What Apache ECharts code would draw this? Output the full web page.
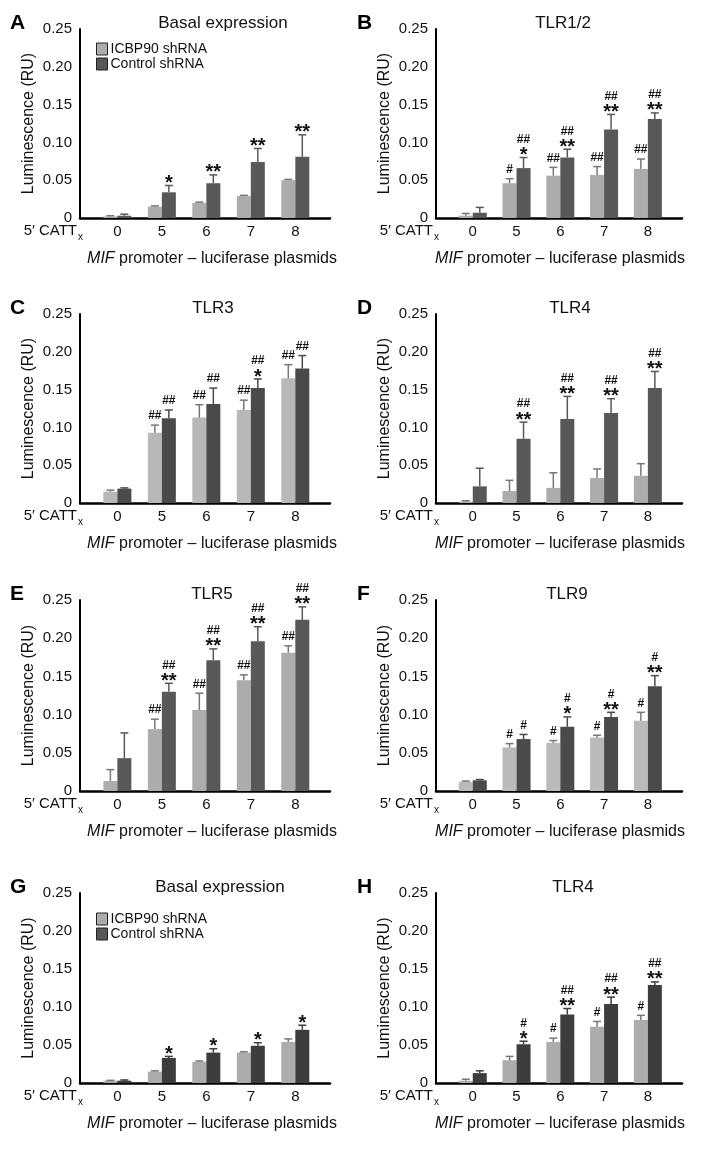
<!DOCTYPE html>
<html>
<head>
<meta charset="utf-8">
<script src="https://cdn.jsdelivr.net/npm/echarts@6/dist/echarts.min.js"></script>
<style>
  html, body { margin: 0; padding: 0; background: #fff; }
  #main { width: 703px; height: 1149px; }
</style>
</head>
<body>
<div id="main"></div>
<script>
// categories (number of CATT repeats) and y ticks
var cats = ['0', '5', '6', '7', '8']
var yMin = 0
var yMax = 0.25
var yStep = 0.05

// A - Basal expression
var lightA = [0.002, 0.015, 0.020, 0.029, 0.050]
var lightErrA = [0.001, 0.001, 0.001, 0.001, 0.001]
var darkA = [0.003, 0.034, 0.046, 0.074, 0.081]
var darkErrA = [0.002, 0.009, 0.011, 0.018, 0.029]
var sigLightA = ['', '', '', '', '']
var sigDarkA = ['', '*', '**', '**', '**']

// B - TLR1/2
var lightB = [0.003, 0.046, 0.056, 0.057, 0.065]
var lightErrB = [0.003, 0.006, 0.011, 0.011, 0.013]
var darkB = [0.007, 0.066, 0.080, 0.117, 0.131]
var darkErrB = [0.007, 0.014, 0.011, 0.020, 0.008]
var sigLightB = ['', '#', '##', '##', '##']
var sigDarkB = ['', '## *', '## **', '## **', '## **']

// C - TLR3
var lightC = [0.015, 0.093, 0.113, 0.123, 0.165]
var lightErrC = [0.002, 0.010, 0.017, 0.013, 0.018]
var darkC = [0.019, 0.112, 0.131, 0.152, 0.178]
var darkErrC = [0.001, 0.011, 0.021, 0.012, 0.017]
var sigLightC = ['', '##', '##', '##', '##']
var sigDarkC = ['', '##', '##', '## *', '##']

// D - TLR4
var lightD = [0.002, 0.016, 0.020, 0.033, 0.036]
var lightErrD = [0.001, 0.014, 0.020, 0.012, 0.016]
var darkD = [0.022, 0.085, 0.111, 0.119, 0.152]
var darkErrD = [0.024, 0.022, 0.030, 0.019, 0.022]
var sigLightD = ['', '', '', '', '']
var sigDarkD = ['', '## **', '## **', '## **', '## **']

// E - TLR5
var lightE = [0.013, 0.081, 0.106, 0.145, 0.181]
var lightErrE = [0.015, 0.013, 0.022, 0.007, 0.009]
var darkE = [0.043, 0.130, 0.171, 0.196, 0.224]
var darkErrE = [0.033, 0.011, 0.015, 0.019, 0.017]
var sigLightE = ['', '##', '##', '##', '##']
var sigDarkE = ['', '## **', '## **', '## **', '## **']

// F - TLR9
var lightF = [0.012, 0.057, 0.063, 0.070, 0.092]
var lightErrF = [0.001, 0.005, 0.003, 0.003, 0.011]
var darkF = [0.014, 0.068, 0.084, 0.097, 0.137]
var darkErrF = [0.001, 0.006, 0.013, 0.006, 0.014]
var sigLightF = ['', '#', '#', '#', '#']
var sigDarkF = ['', '#', '# *', '# **', '# **']

// G - Basal expression
var lightG = [0.003, 0.015, 0.028, 0.040, 0.054]
var lightErrG = [0.0005, 0.001, 0.001, 0.001, 0.004]
var darkG = [0.003, 0.033, 0.040, 0.049, 0.070]
var darkErrG = [0.001, 0.002, 0.005, 0.004, 0.006]
var sigLightG = ['', '', '', '', '']
var sigDarkG = ['', '*', '*', '*', '*']

// H - TLR4
var lightH = [0.003, 0.030, 0.054, 0.074, 0.083]
var lightErrH = [0.002, 0.005, 0.005, 0.007, 0.006]
var darkH = [0.013, 0.051, 0.090, 0.104, 0.129]
var darkErrH = [0.003, 0.004, 0.008, 0.009, 0.004]
var sigLightH = ['', '', '#', '#', '#']
var sigDarkH = ['', '# *', '## **', '## **', '## **']

var panels = [
  { letter: 'A', title: 'Basal expression', light: lightA, lightErr: lightErrA, dark: darkA, darkErr: darkErrA, sigL: sigLightA, sigD: sigDarkA },
  { letter: 'B', title: 'TLR1/2', light: lightB, lightErr: lightErrB, dark: darkB, darkErr: darkErrB, sigL: sigLightB, sigD: sigDarkB },
  { letter: 'C', title: 'TLR3', light: lightC, lightErr: lightErrC, dark: darkC, darkErr: darkErrC, sigL: sigLightC, sigD: sigDarkC },
  { letter: 'D', title: 'TLR4', light: lightD, lightErr: lightErrD, dark: darkD, darkErr: darkErrD, sigL: sigLightD, sigD: sigDarkD },
  { letter: 'E', title: 'TLR5', light: lightE, lightErr: lightErrE, dark: darkE, darkErr: darkErrE, sigL: sigLightE, sigD: sigDarkE },
  { letter: 'F', title: 'TLR9', light: lightF, lightErr: lightErrF, dark: darkF, darkErr: darkErrF, sigL: sigLightF, sigD: sigDarkF },
  { letter: 'G', title: 'Basal expression', light: lightG, lightErr: lightErrG, dark: darkG, darkErr: darkErrG, sigL: sigLightG, sigD: sigDarkG },
  { letter: 'H', title: 'TLR4', light: lightH, lightErr: lightErrH, dark: darkH, darkErr: darkErrH, sigL: sigLightH, sigD: sigDarkH }
]

// layout
var colLeft = [80, 436]
var colWidth = [250, 246]
var rowTop = [29, 314, 600, 893]
var rowHeight = [189, 189, 191, 190]
var titleX = [223, 563, 213, 570, 212, 567, 220, 573]
var lightColor = ['#acacac', '#acacac', '#b8b8b8', '#acacac', '#acacac', '#bababa', '#acacac', '#acacac']
var darkColor = ['#585858', '#585858', '#4a4a4a', '#585858', '#585858', '#4a4a4a', '#3d3d3d', '#3d3d3d']
var FONT = 'Liberation Sans, Arial, Helvetica, sans-serif'

function errorRender (dx, color, sigs) {
  return function (params, api) {
    var x = api.value(0)
    var m = api.value(1)
    var e = api.value(2)
    var base = api.coord([x, m])
    var top = api.coord([x, m + e])
    var cx = base[0] + dx
    var children = [
      { type: 'line', shape: { x1: cx, y1: base[1], x2: cx, y2: top[1] }, style: { stroke: color, lineWidth: 1.5 } },
      { type: 'line', shape: { x1: cx - 4, y1: top[1], x2: cx + 4, y2: top[1] }, style: { stroke: color, lineWidth: 1.5 } }
    ]
    var parts = (sigs[params.dataIndex] || '').split(' ').filter(function (s) { return s })
    var cursor = top[1] - 2
    for (var k = parts.length - 1; k >= 0; k--) {
      var p = parts[k]
      if (p.indexOf('*') >= 0) {
        children.push({
          type: 'text',
          style: { text: p, x: cx, y: cursor, align: 'center', verticalAlign: 'middle', font: 'bold 20px ' + FONT, fill: '#111' }
        })
        cursor -= 9
      } else {
        children.push({
          type: 'text',
          style: { text: p, x: cx, y: cursor - 7, align: 'center', verticalAlign: 'middle', font: 'bold 12px ' + FONT, fill: '#111' }
        })
        cursor -= 12
      }
    }
    return { type: 'group', children: children }
  }
}

var grids = []
var xAxes = []
var yAxes = []
var series = []
var graphics = []

panels.forEach(function (p, i) {
  var col = i % 2
  var row = Math.floor(i / 2)
  var left = colLeft[col]
  var top = rowTop[row]
  grids.push({ left: left, top: top, width: colWidth[col], height: rowHeight[row] })
  xAxes.push({
    type: 'value',
    gridIndex: i,
    min: -0.84,
    max: 4.78,
    splitLine: { show: false },
    axisTick: { show: false },
    axisLine: { onZero: false, lineStyle: { color: '#000', width: 2.5 } },
    axisLabel: {
      customValues: [0, 1, 2, 3, 4],
      formatter: function (v) { return cats[Math.round(v)] },
      color: '#111',
      fontSize: 15,
      fontFamily: FONT,
      margin: 6
    },
    name: '{i|MIF} promoter \u2013 luciferase plasmids',
    nameLocation: 'middle',
    nameGap: 33,
    nameTextStyle: {
      color: '#111',
      fontSize: 16,
      fontFamily: FONT,
      padding: col === 0 ? [0, 0, 0, 14] : [0, 0, 0, 2],
      rich: { i: { fontStyle: 'italic', fontSize: 16, fontFamily: FONT, color: '#111' } }
    }
  })
  yAxes.push({
    type: 'value',
    gridIndex: i,
    min: yMin,
    max: yMax,
    interval: yStep,
    splitLine: { show: false },
    axisTick: { show: false },
    axisLine: { show: true, onZero: false, lineStyle: { color: '#000', width: 2 } },
    axisLabel: {
      formatter: function (v) { return v === 0 ? '0' : v.toFixed(2) },
      color: '#111',
      fontSize: 15,
      fontFamily: FONT,
      margin: 8
    },
    name: 'Luminescence (RU)',
    nameLocation: 'middle',
    nameGap: 43,
    nameTextStyle: { color: '#111', fontSize: 16, fontFamily: FONT }
  })

  series.push({
    name: 'ICBP90 shRNA',
    type: 'bar',
    xAxisIndex: i,
    yAxisIndex: i,
    barWidth: 14,
    barGap: '0%',
    itemStyle: { color: lightColor[i] },
    data: p.light.map(function (v, j) { return [j, v] })
  })
  series.push({
    name: 'Control shRNA',
    type: 'bar',
    xAxisIndex: i,
    yAxisIndex: i,
    barWidth: 14,
    barGap: '0%',
    itemStyle: { color: darkColor[i] },
    data: p.dark.map(function (v, j) { return [j, v] })
  })
  series.push({
    type: 'custom',
    xAxisIndex: i,
    yAxisIndex: i,
    silent: true,
    z: 5,
    renderItem: errorRender(-7, '#777', p.sigL),
    data: p.light.map(function (v, j) { return [j, v, p.lightErr[j]] })
  })
  series.push({
    type: 'custom',
    xAxisIndex: i,
    yAxisIndex: i,
    silent: true,
    z: 5,
    renderItem: errorRender(7, darkColor[i], p.sigD),
    data: p.dark.map(function (v, j) { return [j, v, p.darkErr[j]] })
  })

  // panel letter, title and the "5' CATTx" row label
  graphics.push({
    type: 'text', x: col === 0 ? 10 : 357, y: top - 6,
    style: { text: p.letter, font: 'bold 21px ' + FONT, fill: '#000', align: 'left', verticalAlign: 'middle' }
  })
  graphics.push({
    type: 'text', x: titleX[i], y: top - 6,
    style: { text: p.title, font: '17px ' + FONT, fill: '#111', align: 'center', verticalAlign: 'middle' }
  })
  var baseY = top + rowHeight[row] + 13
  graphics.push({
    type: 'text', x: left - 3, y: baseY,
    style: { text: '5\u2032 CATT', font: '15px ' + FONT, fill: '#111', align: 'right', verticalAlign: 'middle' }
  })
  graphics.push({
    type: 'text', x: left - 2, y: baseY + 6,
    style: { text: 'x', font: '10px ' + FONT, fill: '#111', align: 'left', verticalAlign: 'middle' }
  })
})

var legendBase = {
  orient: 'vertical',
  left: 96,
  itemWidth: 11,
  itemHeight: 12,
  itemGap: 1,
  padding: 0,
  icon: 'rect',
  selectedMode: false,
  itemStyle: { borderColor: '#222', borderWidth: 1 },
  textStyle: { fontSize: 14, fontFamily: FONT, color: '#111', padding: [0, 0, 0, -2] },
  data: ['ICBP90 shRNA', 'Control shRNA']
}

var chart = echarts.init(document.getElementById('main'))
chart.setOption({
  animation: false,
  grid: grids,
  xAxis: xAxes,
  yAxis: yAxes,
  legend: [
    Object.assign({}, legendBase, { top: 42 }),
    Object.assign({}, legendBase, { top: 912 })
  ],
  graphic: graphics,
  series: series
})
</script>
</body>
</html>
